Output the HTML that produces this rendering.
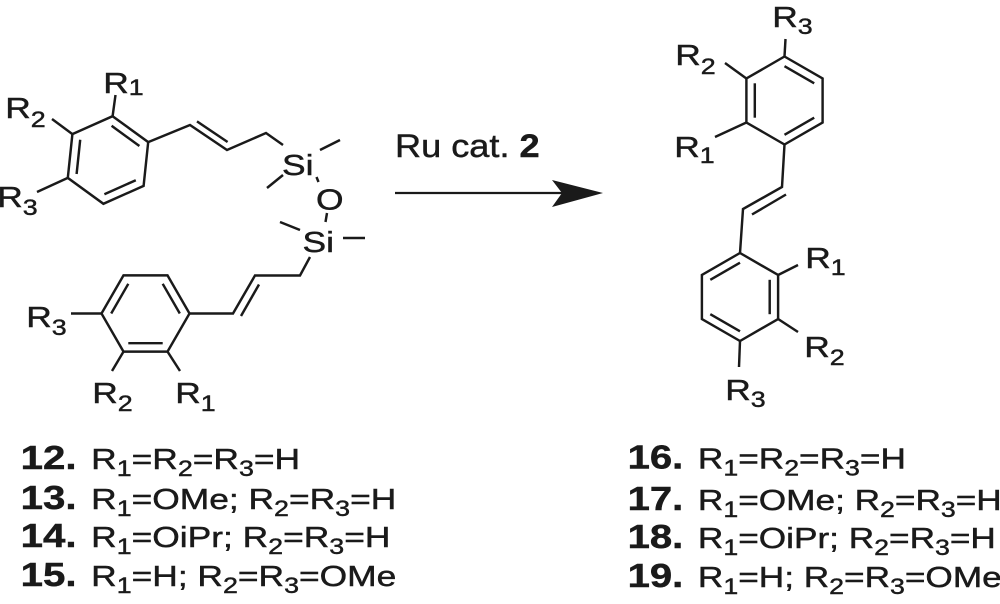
<!DOCTYPE html>
<html>
<head>
<meta charset="utf-8">
<style>
  html, body { margin: 0; padding: 0; background: #ffffff; }
  body { width: 1000px; height: 604px; overflow: hidden; }
  svg { display: block; }
  text { font-family: "Liberation Sans", Arial, sans-serif; font-size: 29px; fill: #1a1a1a; stroke: #1a1a1a; stroke-width: 0.45px; }
  .s { font-size: 22px; }
  .b { font-weight: bold; font-size: 33px; }
</style>
</head>
<body>
<svg width="1000" height="604" viewBox="0 0 1000 604" xmlns="http://www.w3.org/2000/svg">
  <rect width="1000" height="604" fill="#ffffff"/>
  <g stroke="#1a1a1a" stroke-width="2.45" fill="none" stroke-linecap="butt" stroke-linejoin="miter">
    <!-- Top-left ring -->
    <polygon points="112.6,116.2 148.2,142.1 143.6,185.9 103.4,203.8 67.8,177.9 72.4,134.1"/>
    <line x1="111.6" y1="125.8" x2="139.4" y2="146.0"/>
    <line x1="80.2" y1="139.8" x2="76.6" y2="174.0"/>
    <line x1="104.4" y1="194.2" x2="135.8" y2="180.2"/>
    <!-- substituents -->
    <line x1="112.6" y1="116.2" x2="115.5" y2="95"/>
    <line x1="72.4" y1="134.1" x2="52" y2="119"/>
    <line x1="67.8" y1="177.9" x2="37" y2="192"/>
    <!-- top vinyl -->
    <polyline points="148.2,142.1 190,125 227,150 266,133 283,145"/>
    <line x1="197" y1="121.4" x2="227.6" y2="142"/>
    <!-- Si-O-Si -->
    <line x1="320" y1="150" x2="340" y2="140"/>
    <line x1="283" y1="175" x2="267" y2="188"/>
    <line x1="316.5" y1="177" x2="318.5" y2="182"/>
    <line x1="327" y1="213" x2="325.5" y2="222"/>
    <line x1="280" y1="222" x2="300" y2="230"/>
    <line x1="343" y1="238" x2="365" y2="238"/>
    <!-- bottom vinyl -->
    <polyline points="310,257 300,275.5 255,275.5 233,313.5 189.5,313.5"/>
    <line x1="241" y1="316" x2="259" y2="284.5"/>
    <!-- Bottom-left ring -->
    <polygon points="189.5,313.5 167.5,275.4 123.5,275.4 101.5,313.5 123.5,351.6 167.5,351.6"/>
    <line x1="179.8" y1="313.5" x2="162.7" y2="283.8"/>
    <line x1="128.3" y1="283.8" x2="111.2" y2="313.5"/>
    <line x1="128.3" y1="343.2" x2="162.7" y2="343.2"/>
    <line x1="101.5" y1="313.5" x2="71" y2="313.5"/>
    <line x1="123.5" y1="351.6" x2="112" y2="371"/>
    <line x1="167.5" y1="351.6" x2="180" y2="371"/>

    <!-- Top-right ring -->
    <polygon points="784.5,56.5 822.6,78.5 822.6,122.5 784.5,144.5 746.4,122.5 746.4,78.5"/>
    <line x1="784.5" y1="66.2" x2="814.2" y2="83.3"/>
    <line x1="814.2" y1="117.7" x2="784.5" y2="134.8"/>
    <line x1="754.8" y1="83.3" x2="754.8" y2="117.7"/>
    <line x1="784.5" y1="56.5" x2="785.5" y2="39"/>
    <line x1="746.4" y1="78.5" x2="725" y2="63"/>
    <line x1="746.4" y1="122.5" x2="715" y2="137"/>
    <!-- stilbene vinyl -->
    <polyline points="784.5,144.5 782,187 743,209 740,253"/>
    <line x1="752" y1="214.5" x2="786" y2="194.5"/>
    <!-- Bottom-right ring -->
    <polygon points="740,253 778.1,275 778.1,319 740,341 701.9,319 701.9,275"/>
    <line x1="740" y1="262.7" x2="710.3" y2="279.8"/>
    <line x1="769.7" y1="279.8" x2="769.7" y2="314.2"/>
    <line x1="710.3" y1="314.2" x2="740" y2="331.3"/>
    <line x1="778.1" y1="275" x2="798" y2="265"/>
    <line x1="778.1" y1="319" x2="798" y2="332"/>
    <line x1="740" y1="341" x2="739" y2="367"/>

    <!-- Arrow -->
    <line x1="395" y1="193" x2="563" y2="193" stroke-width="2.2"/>
  </g>
  <polygon points="603,193 552,180 562,193 552,207" fill="#1a1a1a"/>

  <!-- Atom labels -->
  <text transform="translate(282,175) scale(1.22,1)">Si</text>
  <text transform="translate(316,209.5) scale(1.22,1)">O</text>
  <text transform="translate(302.5,252) scale(1.22,1)">Si</text>

  <!-- R labels: top-left ring -->
  <text transform="translate(103.2,93) scale(1.22,1)">R<tspan class="s" dy="2">1</tspan></text>
  <text transform="translate(5.2,118) scale(1.22,1)">R<tspan class="s" dy="9">2</tspan></text>
  <text transform="translate(-2.8,207) scale(1.22,1)">R<tspan class="s" dy="8">3</tspan></text>
  <!-- bottom-left ring -->
  <text transform="translate(26.2,327) scale(1.22,1)">R<tspan class="s" dy="8">3</tspan></text>
  <text transform="translate(92.2,403) scale(1.22,1)">R<tspan class="s" dy="8">2</tspan></text>
  <text transform="translate(175.2,403) scale(1.22,1)">R<tspan class="s" dy="8">1</tspan></text>
  <!-- top-right ring -->
  <text transform="translate(772.2,27) scale(1.22,1)">R<tspan class="s" dy="7">3</tspan></text>
  <text transform="translate(675.2,65) scale(1.22,1)">R<tspan class="s" dy="9">2</tspan></text>
  <text transform="translate(674.2,157) scale(1.22,1)">R<tspan class="s" dy="6">1</tspan></text>
  <!-- bottom-right ring -->
  <text transform="translate(805.2,268) scale(1.22,1)">R<tspan class="s" dy="7">1</tspan></text>
  <text transform="translate(804.2,357) scale(1.22,1)">R<tspan class="s" dy="8">2</tspan></text>
  <text transform="translate(725.2,400) scale(1.22,1)">R<tspan class="s" dy="7">3</tspan></text>

  <!-- Reagent -->
  <text transform="translate(395,157) scale(1.13,1)" style="font-size:32px">Ru cat. <tspan font-weight="bold">2</tspan></text>

  <!-- Left legend -->
  <text transform="translate(20.6,469) scale(1.22,1)"><tspan class="b">12.</tspan><tspan dx="12">R</tspan><tspan class="s" dy="7">1</tspan><tspan dy="-7">=R</tspan><tspan class="s" dy="7">2</tspan><tspan dy="-7">=R</tspan><tspan class="s" dy="7">3</tspan><tspan dy="-7">=H</tspan></text>
  <text transform="translate(20.6,509) scale(1.22,1)"><tspan class="b">13.</tspan><tspan dx="12">R</tspan><tspan class="s" dy="7">1</tspan><tspan dy="-7">=OMe;</tspan><tspan dx="8">R</tspan><tspan class="s" dy="7">2</tspan><tspan dy="-7">=R</tspan><tspan class="s" dy="7">3</tspan><tspan dy="-7">=H</tspan></text>
  <text transform="translate(20.6,547) scale(1.22,1)"><tspan class="b">14.</tspan><tspan dx="12">R</tspan><tspan class="s" dy="7">1</tspan><tspan dy="-7">=OiPr;</tspan><tspan dx="8">R</tspan><tspan class="s" dy="7">2</tspan><tspan dy="-7">=R</tspan><tspan class="s" dy="7">3</tspan><tspan dy="-7">=H</tspan></text>
  <text transform="translate(20.6,586) scale(1.22,1)"><tspan class="b">15.</tspan><tspan dx="12">R</tspan><tspan class="s" dy="7">1</tspan><tspan dy="-7">=H;</tspan><tspan dx="8">R</tspan><tspan class="s" dy="7">2</tspan><tspan dy="-7">=R</tspan><tspan class="s" dy="7">3</tspan><tspan dy="-7">=OMe</tspan></text>

  <!-- Right legend -->
  <text transform="translate(627.6,468.5) scale(1.215,1)"><tspan class="b">16.</tspan><tspan dx="12">R</tspan><tspan class="s" dy="7">1</tspan><tspan dy="-7">=R</tspan><tspan class="s" dy="7">2</tspan><tspan dy="-7">=R</tspan><tspan class="s" dy="7">3</tspan><tspan dy="-7">=H</tspan></text>
  <text transform="translate(627.6,510) scale(1.215,1)"><tspan class="b">17.</tspan><tspan dx="12">R</tspan><tspan class="s" dy="7">1</tspan><tspan dy="-7">=OMe;</tspan><tspan dx="8">R</tspan><tspan class="s" dy="7">2</tspan><tspan dy="-7">=R</tspan><tspan class="s" dy="7">3</tspan><tspan dy="-7">=H</tspan></text>
  <text transform="translate(627.6,548) scale(1.215,1)"><tspan class="b">18.</tspan><tspan dx="12">R</tspan><tspan class="s" dy="7">1</tspan><tspan dy="-7">=OiPr;</tspan><tspan dx="8">R</tspan><tspan class="s" dy="7">2</tspan><tspan dy="-7">=R</tspan><tspan class="s" dy="7">3</tspan><tspan dy="-7">=H</tspan></text>
  <text transform="translate(627.6,587) scale(1.215,1)"><tspan class="b">19.</tspan><tspan dx="12">R</tspan><tspan class="s" dy="7">1</tspan><tspan dy="-7">=H;</tspan><tspan dx="8">R</tspan><tspan class="s" dy="7">2</tspan><tspan dy="-7">=R</tspan><tspan class="s" dy="7">3</tspan><tspan dy="-7">=OMe</tspan></text>
</svg>
</body>
</html>
